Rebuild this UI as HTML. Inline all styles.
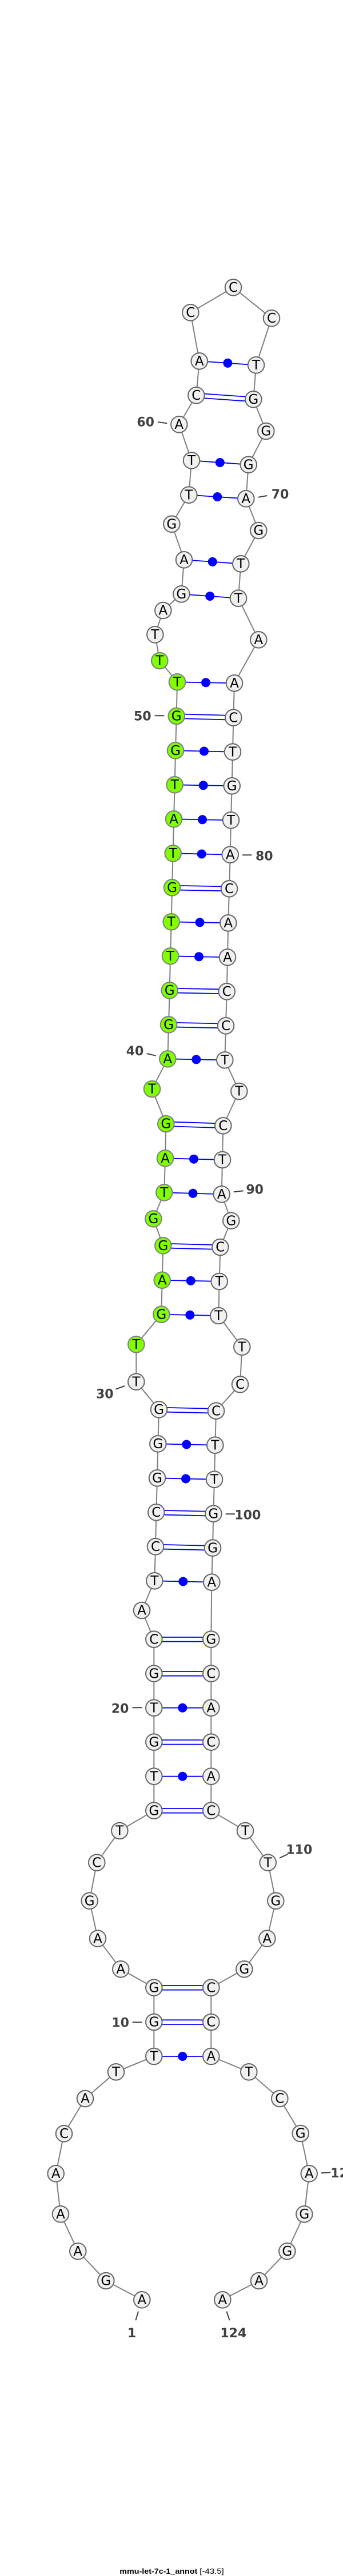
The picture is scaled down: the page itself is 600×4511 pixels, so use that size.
<!DOCTYPE html>
<html><head><meta charset="utf-8"><title>mmu-let-7c-1_annot</title>
<style>
html,body{margin:0;padding:0;background:#fff}
svg{display:block}
.b{fill:none;stroke:#808080;stroke-width:2}
.p{stroke:#0000ff;stroke-width:1.8;fill:none}
.d{fill:#0000ff}
.n{fill:#f1f1f1;stroke:#666;stroke-width:2}
.g{fill:#7fff00;stroke:#808080;stroke-width:2}
.t{font-family:"DejaVu Sans",sans-serif;font-size:23px;fill:#000;text-anchor:middle}
.l{font-family:"DejaVu Sans",sans-serif;font-size:22px;font-weight:bold;fill:#404040;text-anchor:middle}
.k{stroke:#404040;stroke-width:2;fill:none}
</style></head><body>
<svg xmlns="http://www.w3.org/2000/svg" width="600" height="4511" viewBox="0 0 600 4511">
<polyline class="b" points="248.3,4027.3 185.3,3994 136.3,3942.3 106,3877.3 97.7,3806.3 112,3736.3 149,3675 203,3628.3 269.3,3601 269.3,3541 269.3,3480.7 211.3,3448.3 171,3394.7 156.7,3328.7 169.3,3261.7 209.3,3206 269.3,3170.7 269.3,3110.7 269.3,3050.7 269.3,2990.7 269.3,2930.7 269.3,2870.7 248,2820 270.3,2768.3 272,2708.3 273.3,2648.3 275,2588.3 276.3,2528.3 278,2468.3 238.3,2419.7 238.3,2354.3 282.3,2301.7 283.7,2241.7 285.3,2181.3 268.3,2134.3 287.3,2088.3 289,2028.3 290.3,1968 266,1907 293.3,1854.3 295,1794.3 296.7,1734.3 298,1674.3 299.7,1614.3 301,1554.3 302.7,1494.3 304,1434.3 305.7,1374.3 307,1314.3 308.7,1254 310,1194.3 279.3,1157 271.3,1111.3 285.3,1069 317.3,1040.3 322,980.3 300.3,917.7 330.3,866.7 335,806.3 313.3,743.3 343.3,692.3 348.7,632.3 333.3,547.3 408,503.3 475,557.3 448,639.3 443.3,699.3 465.3,755 434.7,813.7 430.3,873.3 452.3,929 421.3,987.3 417,1047.7 452.3,1120.3 410,1196.3 408.3,1256.7 407,1316.7 405.7,1376.3 404,1436.3 402.7,1496.7 401,1556.3 399.3,1616.3 398,1676.3 396.7,1736.3 395,1796.3 393.3,1856.3 418.3,1911 390.3,1971.3 389,2031 387.7,2091.3 404.3,2137.7 385.3,2184 383.7,2244 382.3,2304 423.3,2358.7 420,2424.3 378,2470.7 376.3,2530.7 375,2590.7 373.3,2650.7 372,2710.7 370.3,2770.7 369.3,2870.7 369.3,2930.7 369.3,2990.7 369.3,3050.7 369.3,3110.7 369.3,3170.7 429,3206 468.7,3261.7 482.3,3328.7 467.3,3394.7 427.3,3448.3 369.3,3480.7 369.3,3541 369.3,3601 435.3,3628.3 489.3,3675 525.7,3736 540.7,3806.3 532.3,3877.3 502.3,3942.3 453,3994 389.3,4027.3"/>
<path class="p" d="M269.3 3601H369.3M269.3 3537.3H369.3M269.3 3545H369.3M269.3 3477H369.3M269.3 3484.7H369.3M269.3 3167H369.3M269.3 3174.7H369.3M269.3 3110.7H369.3M269.3 3047H369.3M269.3 3054.7H369.3M269.3 2990.7H369.3M269.3 2927H369.3M269.3 2934.7H369.3M269.3 2867H369.3M269.3 2874.7H369.3
M270.3 2768.3L370.3 2770.7M272 2704.6L372 2707M272 2712.3L372 2714.7M273.3 2644.6L373.3 2647M273.3 2652.3L373.3 2654.7M275 2588.3L375 2590.7M276.3 2528.3L376.3 2530.7M278 2464.6L378 2467M278 2472.3L378 2474.7
M282.3 2301.7L382.3 2304M283.7 2241.7L383.7 2244M285.3 2177.6L385.3 2180.3M285.3 2185.3L385.3 2188
M287.3 2088.3L387.7 2091.3M289 2028.3L389 2031M290.3 1964.3L390.3 1967.6M290.3 1972L390.3 1975.3
M293.3 1854.3L393.3 1856.3M295 1790.6L395 1792.6M295 1798.3L395 1800.3M296.7 1730.6L396.7 1732.6M296.7 1738.3L396.7 1740.3M298 1674.3L398 1676.3M299.7 1614.3L399.3 1616.3M301 1550.6L401 1552.6M301 1558.3L401 1560.3M302.7 1494.3L402.7 1496.7M304 1434.3L404 1436.3M305.7 1374.3L405.7 1376.3M307 1314.3L407 1316.7M308.7 1250.3L408.3 1253M308.7 1258L408.3 1260.7M310 1194.3L410 1196.3
M317.3 1040.3L417 1047.7M322 980.3L421.3 987.3M330.3 866.7L430.3 873.3M335 806.3L434.7 813.7M343.3 688.6L443.3 695.6M343.3 696.3L443.3 703.3M348.7 632.3L448 639.3"/>
<g class="d">
<circle cx="319.3" cy="3601" r="8"/><circle cx="319.3" cy="3110.7" r="8"/><circle cx="319.3" cy="2990.7" r="8"/><circle cx="320.3" cy="2769.5" r="8"/><circle cx="325" cy="2589.5" r="8"/><circle cx="326.3" cy="2529.5" r="8"/><circle cx="332.3" cy="2302.8" r="8"/><circle cx="333.7" cy="2242.8" r="8"/><circle cx="337.5" cy="2089.8" r="8"/><circle cx="339" cy="2029.7" r="8"/><circle cx="343.3" cy="1855.3" r="8"/><circle cx="348" cy="1675.3" r="8"/><circle cx="349.5" cy="1615.3" r="8"/><circle cx="352.7" cy="1495.5" r="8"/><circle cx="354" cy="1435.3" r="8"/><circle cx="355.7" cy="1375.3" r="8"/><circle cx="357" cy="1315.5" r="8"/><circle cx="360" cy="1195.3" r="8"/><circle cx="367.2" cy="1044" r="8"/><circle cx="371.7" cy="983.8" r="8"/><circle cx="380.3" cy="870" r="8"/><circle cx="384.8" cy="810" r="8"/><circle cx="398.3" cy="635.8" r="8"/>
</g>
<g class="k"><path d="M276 739L292.3 741.3M451.7 870.7L467.3 868M270.7 1253.3H287.3M424 1497.3H440.3M256.7 1845L272.7 1848.7M408.7 2087.3L425.7 2085.3M202.3 2432.7L218.3 2427M394.7 2651.3H411M231.7 2990.3H248.3M231.7 3541.3H248.3M489 3253.7L503.3 3247M561.7 3805.3L578.3 3804.3M242 4047.7L237.3 4063.3M396.3 4047.7L401.7 4063.3"/></g>
<g>
<circle class="n" cx="248.3" cy="4027.3" r="14.3"/><text class="t" x="248.3" y="4035">A</text>
<circle class="n" cx="185.3" cy="3994" r="14.3"/><text class="t" x="185.3" y="4001.7">G</text>
<circle class="n" cx="136.3" cy="3942.3" r="14.3"/><text class="t" x="136.3" y="3950">A</text>
<circle class="n" cx="106" cy="3877.3" r="14.3"/><text class="t" x="106" y="3885">A</text>
<circle class="n" cx="97.7" cy="3806.3" r="14.3"/><text class="t" x="97.7" y="3814">A</text>
<circle class="n" cx="112" cy="3736.3" r="14.3"/><text class="t" x="112" y="3744">C</text>
<circle class="n" cx="149" cy="3675" r="14.3"/><text class="t" x="149" y="3682.7">A</text>
<circle class="n" cx="203" cy="3628.3" r="14.3"/><text class="t" x="203" y="3636">T</text>
<circle class="n" cx="269.3" cy="3601" r="14.3"/><text class="t" x="269.3" y="3608.7">T</text>
<circle class="n" cx="269.3" cy="3541" r="14.3"/><text class="t" x="269.3" y="3548.7">G</text>
<circle class="n" cx="269.3" cy="3480.7" r="14.3"/><text class="t" x="269.3" y="3488.4">G</text>
<circle class="n" cx="211.3" cy="3448.3" r="14.3"/><text class="t" x="211.3" y="3456">A</text>
<circle class="n" cx="171" cy="3394.7" r="14.3"/><text class="t" x="171" y="3402.4">A</text>
<circle class="n" cx="156.7" cy="3328.7" r="14.3"/><text class="t" x="156.7" y="3336.4">G</text>
<circle class="n" cx="169.3" cy="3261.7" r="14.3"/><text class="t" x="169.3" y="3269.4">C</text>
<circle class="n" cx="209.3" cy="3206" r="14.3"/><text class="t" x="209.3" y="3213.7">T</text>
<circle class="n" cx="269.3" cy="3170.7" r="14.3"/><text class="t" x="269.3" y="3178.4">G</text>
<circle class="n" cx="269.3" cy="3110.7" r="14.3"/><text class="t" x="269.3" y="3118.4">T</text>
<circle class="n" cx="269.3" cy="3050.7" r="14.3"/><text class="t" x="269.3" y="3058.4">G</text>
<circle class="n" cx="269.3" cy="2990.7" r="14.3"/><text class="t" x="269.3" y="2998.4">T</text>
<circle class="n" cx="269.3" cy="2930.7" r="14.3"/><text class="t" x="269.3" y="2938.4">G</text>
<circle class="n" cx="269.3" cy="2870.7" r="14.3"/><text class="t" x="269.3" y="2878.4">C</text>
<circle class="n" cx="248" cy="2820" r="14.3"/><text class="t" x="248" y="2827.7">A</text>
<circle class="n" cx="270.3" cy="2768.3" r="14.3"/><text class="t" x="270.3" y="2776">T</text>
<circle class="n" cx="272" cy="2708.3" r="14.3"/><text class="t" x="272" y="2716">C</text>
<circle class="n" cx="273.3" cy="2648.3" r="14.3"/><text class="t" x="273.3" y="2656">C</text>
<circle class="n" cx="275" cy="2588.3" r="14.3"/><text class="t" x="275" y="2596">G</text>
<circle class="n" cx="276.3" cy="2528.3" r="14.3"/><text class="t" x="276.3" y="2536">G</text>
<circle class="n" cx="278" cy="2468.3" r="14.3"/><text class="t" x="278" y="2476">G</text>
<circle class="n" cx="238.3" cy="2419.7" r="14.3"/><text class="t" x="238.3" y="2427.4">T</text>
<circle class="g" cx="238.3" cy="2354.3" r="14.3"/><text class="t" x="238.3" y="2362">T</text>
<circle class="g" cx="282.3" cy="2301.7" r="14.3"/><text class="t" x="282.3" y="2309.4">G</text>
<circle class="g" cx="283.7" cy="2241.7" r="14.3"/><text class="t" x="283.7" y="2249.4">A</text>
<circle class="g" cx="285.3" cy="2181.3" r="14.3"/><text class="t" x="285.3" y="2189">G</text>
<circle class="g" cx="268.3" cy="2134.3" r="14.3"/><text class="t" x="268.3" y="2142">G</text>
<circle class="g" cx="287.3" cy="2088.3" r="14.3"/><text class="t" x="287.3" y="2096">T</text>
<circle class="g" cx="289" cy="2028.3" r="14.3"/><text class="t" x="289" y="2036">A</text>
<circle class="g" cx="290.3" cy="1968" r="14.3"/><text class="t" x="290.3" y="1975.7">G</text>
<circle class="g" cx="266" cy="1907" r="14.3"/><text class="t" x="266" y="1914.7">T</text>
<circle class="g" cx="293.3" cy="1854.3" r="14.3"/><text class="t" x="293.3" y="1862">A</text>
<circle class="g" cx="295" cy="1794.3" r="14.3"/><text class="t" x="295" y="1802">G</text>
<circle class="g" cx="296.7" cy="1734.3" r="14.3"/><text class="t" x="296.7" y="1742">G</text>
<circle class="g" cx="298" cy="1674.3" r="14.3"/><text class="t" x="298" y="1682">T</text>
<circle class="g" cx="299.7" cy="1614.3" r="14.3"/><text class="t" x="299.7" y="1622">T</text>
<circle class="g" cx="301" cy="1554.3" r="14.3"/><text class="t" x="301" y="1562">G</text>
<circle class="g" cx="302.7" cy="1494.3" r="14.3"/><text class="t" x="302.7" y="1502">T</text>
<circle class="g" cx="304" cy="1434.3" r="14.3"/><text class="t" x="304" y="1442">A</text>
<circle class="g" cx="305.7" cy="1374.3" r="14.3"/><text class="t" x="305.7" y="1382">T</text>
<circle class="g" cx="307" cy="1314.3" r="14.3"/><text class="t" x="307" y="1322">G</text>
<circle class="g" cx="308.7" cy="1254" r="14.3"/><text class="t" x="308.7" y="1261.7">G</text>
<circle class="g" cx="310" cy="1194.3" r="14.3"/><text class="t" x="310" y="1202">T</text>
<circle class="g" cx="279.3" cy="1157" r="14.3"/><text class="t" x="279.3" y="1164.7">T</text>
<circle class="n" cx="271.3" cy="1111.3" r="14.3"/><text class="t" x="271.3" y="1119">T</text>
<circle class="n" cx="285.3" cy="1069" r="14.3"/><text class="t" x="285.3" y="1076.7">A</text>
<circle class="n" cx="317.3" cy="1040.3" r="14.3"/><text class="t" x="317.3" y="1048">G</text>
<circle class="n" cx="322" cy="980.3" r="14.3"/><text class="t" x="322" y="988">A</text>
<circle class="n" cx="300.3" cy="917.7" r="14.3"/><text class="t" x="300.3" y="925.4">G</text>
<circle class="n" cx="330.3" cy="866.7" r="14.3"/><text class="t" x="330.3" y="874.4">T</text>
<circle class="n" cx="335" cy="806.3" r="14.3"/><text class="t" x="335" y="814">T</text>
<circle class="n" cx="313.3" cy="743.3" r="14.3"/><text class="t" x="313.3" y="751">A</text>
<circle class="n" cx="343.3" cy="692.3" r="14.3"/><text class="t" x="343.3" y="700">C</text>
<circle class="n" cx="348.7" cy="632.3" r="14.3"/><text class="t" x="348.7" y="640">A</text>
<circle class="n" cx="333.3" cy="547.3" r="14.3"/><text class="t" x="333.3" y="555">C</text>
<circle class="n" cx="408" cy="503.3" r="14.3"/><text class="t" x="408" y="511">C</text>
<circle class="n" cx="475" cy="557.3" r="14.3"/><text class="t" x="475" y="565">C</text>
<circle class="n" cx="448" cy="639.3" r="14.3"/><text class="t" x="448" y="647">T</text>
<circle class="n" cx="443.3" cy="699.3" r="14.3"/><text class="t" x="443.3" y="707">G</text>
<circle class="n" cx="465.3" cy="755" r="14.3"/><text class="t" x="465.3" y="762.7">G</text>
<circle class="n" cx="434.7" cy="813.7" r="14.3"/><text class="t" x="434.7" y="821.4">G</text>
<circle class="n" cx="430.3" cy="873.3" r="14.3"/><text class="t" x="430.3" y="881">A</text>
<circle class="n" cx="452.3" cy="929" r="14.3"/><text class="t" x="452.3" y="936.7">G</text>
<circle class="n" cx="421.3" cy="987.3" r="14.3"/><text class="t" x="421.3" y="995">T</text>
<circle class="n" cx="417" cy="1047.7" r="14.3"/><text class="t" x="417" y="1055.4">T</text>
<circle class="n" cx="452.3" cy="1120.3" r="14.3"/><text class="t" x="452.3" y="1128">A</text>
<circle class="n" cx="410" cy="1196.3" r="14.3"/><text class="t" x="410" y="1204">A</text>
<circle class="n" cx="408.3" cy="1256.7" r="14.3"/><text class="t" x="408.3" y="1264.4">C</text>
<circle class="n" cx="407" cy="1316.7" r="14.3"/><text class="t" x="407" y="1324.4">T</text>
<circle class="n" cx="405.7" cy="1376.3" r="14.3"/><text class="t" x="405.7" y="1384">G</text>
<circle class="n" cx="404" cy="1436.3" r="14.3"/><text class="t" x="404" y="1444">T</text>
<circle class="n" cx="402.7" cy="1496.7" r="14.3"/><text class="t" x="402.7" y="1504.4">A</text>
<circle class="n" cx="401" cy="1556.3" r="14.3"/><text class="t" x="401" y="1564">C</text>
<circle class="n" cx="399.3" cy="1616.3" r="14.3"/><text class="t" x="399.3" y="1624">A</text>
<circle class="n" cx="398" cy="1676.3" r="14.3"/><text class="t" x="398" y="1684">A</text>
<circle class="n" cx="396.7" cy="1736.3" r="14.3"/><text class="t" x="396.7" y="1744">C</text>
<circle class="n" cx="395" cy="1796.3" r="14.3"/><text class="t" x="395" y="1804">C</text>
<circle class="n" cx="393.3" cy="1856.3" r="14.3"/><text class="t" x="393.3" y="1864">T</text>
<circle class="n" cx="418.3" cy="1911" r="14.3"/><text class="t" x="418.3" y="1918.7">T</text>
<circle class="n" cx="390.3" cy="1971.3" r="14.3"/><text class="t" x="390.3" y="1979">C</text>
<circle class="n" cx="389" cy="2031" r="14.3"/><text class="t" x="389" y="2038.7">T</text>
<circle class="n" cx="387.7" cy="2091.3" r="14.3"/><text class="t" x="387.7" y="2099">A</text>
<circle class="n" cx="404.3" cy="2137.7" r="14.3"/><text class="t" x="404.3" y="2145.4">G</text>
<circle class="n" cx="385.3" cy="2184" r="14.3"/><text class="t" x="385.3" y="2191.7">C</text>
<circle class="n" cx="383.7" cy="2244" r="14.3"/><text class="t" x="383.7" y="2251.7">T</text>
<circle class="n" cx="382.3" cy="2304" r="14.3"/><text class="t" x="382.3" y="2311.7">T</text>
<circle class="n" cx="423.3" cy="2358.7" r="14.3"/><text class="t" x="423.3" y="2366.4">T</text>
<circle class="n" cx="420" cy="2424.3" r="14.3"/><text class="t" x="420" y="2432">C</text>
<circle class="n" cx="378" cy="2470.7" r="14.3"/><text class="t" x="378" y="2478.4">C</text>
<circle class="n" cx="376.3" cy="2530.7" r="14.3"/><text class="t" x="376.3" y="2538.4">T</text>
<circle class="n" cx="375" cy="2590.7" r="14.3"/><text class="t" x="375" y="2598.4">T</text>
<circle class="n" cx="373.3" cy="2650.7" r="14.3"/><text class="t" x="373.3" y="2658.4">G</text>
<circle class="n" cx="372" cy="2710.7" r="14.3"/><text class="t" x="372" y="2718.4">G</text>
<circle class="n" cx="370.3" cy="2770.7" r="14.3"/><text class="t" x="370.3" y="2778.4">A</text>
<circle class="n" cx="369.3" cy="2870.7" r="14.3"/><text class="t" x="369.3" y="2878.4">G</text>
<circle class="n" cx="369.3" cy="2930.7" r="14.3"/><text class="t" x="369.3" y="2938.4">C</text>
<circle class="n" cx="369.3" cy="2990.7" r="14.3"/><text class="t" x="369.3" y="2998.4">A</text>
<circle class="n" cx="369.3" cy="3050.7" r="14.3"/><text class="t" x="369.3" y="3058.4">C</text>
<circle class="n" cx="369.3" cy="3110.7" r="14.3"/><text class="t" x="369.3" y="3118.4">A</text>
<circle class="n" cx="369.3" cy="3170.7" r="14.3"/><text class="t" x="369.3" y="3178.4">C</text>
<circle class="n" cx="429" cy="3206" r="14.3"/><text class="t" x="429" y="3213.7">T</text>
<circle class="n" cx="468.7" cy="3261.7" r="14.3"/><text class="t" x="468.7" y="3269.4">T</text>
<circle class="n" cx="482.3" cy="3328.7" r="14.3"/><text class="t" x="482.3" y="3336.4">G</text>
<circle class="n" cx="467.3" cy="3394.7" r="14.3"/><text class="t" x="467.3" y="3402.4">A</text>
<circle class="n" cx="427.3" cy="3448.3" r="14.3"/><text class="t" x="427.3" y="3456">G</text>
<circle class="n" cx="369.3" cy="3480.7" r="14.3"/><text class="t" x="369.3" y="3488.4">C</text>
<circle class="n" cx="369.3" cy="3541" r="14.3"/><text class="t" x="369.3" y="3548.7">C</text>
<circle class="n" cx="369.3" cy="3601" r="14.3"/><text class="t" x="369.3" y="3608.7">A</text>
<circle class="n" cx="435.3" cy="3628.3" r="14.3"/><text class="t" x="435.3" y="3636">T</text>
<circle class="n" cx="489.3" cy="3675" r="14.3"/><text class="t" x="489.3" y="3682.7">C</text>
<circle class="n" cx="525.7" cy="3736" r="14.3"/><text class="t" x="525.7" y="3743.7">G</text>
<circle class="n" cx="540.7" cy="3806.3" r="14.3"/><text class="t" x="540.7" y="3814">A</text>
<circle class="n" cx="532.3" cy="3877.3" r="14.3"/><text class="t" x="532.3" y="3885">G</text>
<circle class="n" cx="502.3" cy="3942.3" r="14.3"/><text class="t" x="502.3" y="3950">G</text>
<circle class="n" cx="453" cy="3994" r="14.3"/><text class="t" x="453" y="4001.7">A</text>
<circle class="n" cx="389.3" cy="4027.3" r="14.3"/><text class="t" x="389.3" y="4035">A</text>
</g>
<g>
<text class="l" x="254.7" y="746.3">60</text>
<text class="l" x="490" y="873">70</text>
<text class="l" x="249.3" y="1261.3">50</text>
<text class="l" x="462.3" y="1506.3">80</text>
<text class="l" x="236" y="1848">40</text>
<text class="l" x="445.7" y="2090.3">90</text>
<text class="l" x="183.3" y="2448.7">30</text>
<text class="l" x="433.3" y="2660.3">100</text>
<text class="l" x="210" y="2999.7">20</text>
<text class="l" x="210.7" y="3549.7">10</text>
<text class="l" x="523.3" y="3246.3">110</text>
<text class="l" x="578.3" y="3813" style="text-anchor:start">120</text>
<text class="l" x="230.7" y="4093">1</text>
<text class="l" x="408.3" y="4093">124</text>
</g>
<text x="209.3" y="4507" textLength="136" lengthAdjust="spacingAndGlyphs" style="font-family:'Liberation Sans',sans-serif;font-size:13px;font-weight:bold;fill:#000">mmu-let-7c-1_annot</text>
<text x="349.3" y="4507" textLength="42.4" lengthAdjust="spacingAndGlyphs" style="font-family:'Liberation Sans',sans-serif;font-size:13px;fill:#000">[-43.5]</text>
</svg>
</body></html>
